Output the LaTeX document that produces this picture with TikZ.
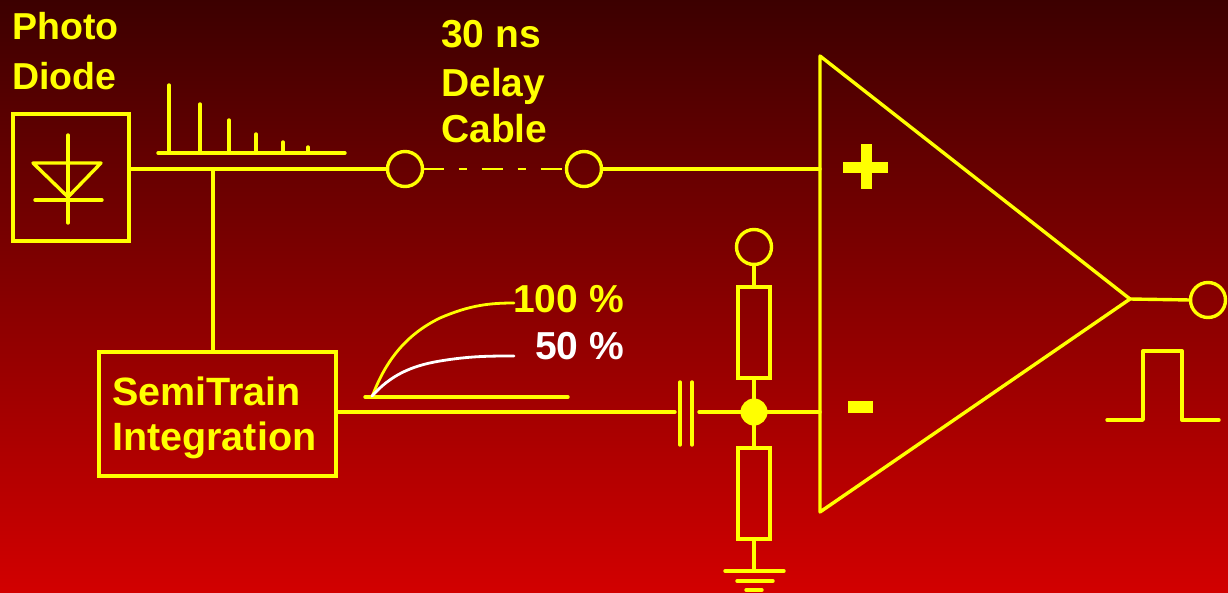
\documentclass[tikz,border=0pt]{standalone}
\usepackage{fontspec}
\newfontfamily\arb{Liberation Sans}
\definecolor{yel}{RGB}{255,255,0}
\definecolor{bgtop}{RGB}{60,0,0}
\definecolor{bgbot}{RGB}{210,0,0}
\tikzset{
  wire/.style={draw=yel, line width=3.4pt, line cap=round, line join=round},
  term/.style={circle, draw=yel, line width=3.4pt, minimum size=35pt, inner sep=0pt, outer sep=0pt},
  boxx/.style={draw=yel, line width=3.4pt, inner sep=0pt, outer sep=0pt},
  lbl/.style={font=\arb\bfseries\fontsize{39}{45}\selectfont, text=yel, inner sep=0pt, anchor=base west},
  plbl/.style={lbl, font=\arb\bfseries\fontsize{37.5}{45}\selectfont},
  slbl/.style={lbl, font=\arb\bfseries\fontsize{39.5}{45}\selectfont},
  wlbl/.style={lbl, text=white},
  curve/.style={line width=2.8pt, line cap=round, line join=round},
  dly/.style={draw=yel, line width=1.4pt, dash pattern=on 21pt off 15pt on 8pt off 15pt}
}
\begin{document}
\begin{tikzpicture}[x=1pt, y=-1pt]
\useasboundingbox (0,0) rectangle (1228,592);
\fill[top color=bgtop, bottom color=bgbot] (0,0) rectangle (1228,592);

% Photo diode box
\node[boxx, minimum width=116pt, minimum height=127pt] (pd) at (71,177.5) {};
\draw[wire] (68,135) -- (68,223);
\draw[wire] (33,163) -- (101,163) -- (68,197) -- cycle;
\draw[wire] (35,200) -- (102,200);

% pulse train
\draw[wire] (158,153) -- (345,153);
\foreach \x/\t in {169/85,200/104,229/120,256/134,283/142,308/147}
  \draw[wire] (\x,153) -- (\x,\t);

% terminals
\node[term] (c1) at (405,169) {};
\node[term] (c2) at (584,169) {};
\node[term] (c4) at (754,247) {};
\node[term] (c3) at (1208,300) {};

% opamp
\coordinate (optop) at (820,56);
\coordinate (opbot) at (820,512);
\coordinate (opout) at (1130,299);
\coordinate (inp) at (820,169);
\coordinate (inm) at (820,412);
\draw[wire] (optop) -- (opout) -- (opbot) -- cycle;
\fill[yel] (843,161.5) rectangle (888,172.5);
\fill[yel] (860.5,144) rectangle (871.5,189);
\fill[yel] (848,401) rectangle (873,413);

% top wiring
\coordinate (tap) at (213,169);
\draw[wire] (pd.east |- c1) -- (c1.west);
\draw[dly] (c1.east) -- (c2.west);
\draw[wire] (c2.east) -- (inp);
\draw[wire] (opout) -- (c3.west);

% SemiTrain box
\node[boxx, minimum width=237pt, minimum height=124pt] (st) at (217.5,414) {};
\draw[wire] (tap) -- (tap |- st.north);
\node[slbl] (st1) at (112,405) {SemiTrain};
\node[slbl] (st2) at (112,450) {Integration};

% capacitor
\coordinate (capL) at (680,412);
\coordinate (capR) at (692,412);
\draw[wire] (capL |- 0,382) -- (capL |- 0,445);
\draw[wire] (capR |- 0,382) -- (capR |- 0,445);

% junction and resistors
\node[circle, fill=yel, minimum size=27pt, inner sep=0pt, outer sep=0pt] (j) at (754,412) {};
\node[boxx, minimum width=32pt, minimum height=91pt] (r1) at (754,332.5) {};
\node[boxx, minimum width=32pt, minimum height=91pt] (r2) at (754,493.5) {};
\coordinate (g) at (754,571);
\draw[wire] (st.east |- j) -- ([xshift=-5pt]capL);
\draw[wire] ([xshift=7pt]capR) -- (j.west);
\draw[wire] (j.east) -- (inm);
\draw[wire] (j) -- (r1.south);
\draw[wire] (r1.north) -- (c4.south);
\draw[wire] (j) -- (r2.north);
\draw[wire] (r2.south) -- (g);
\draw[wire] ([xshift=-29pt]g) -- ([xshift=30pt]g);
\draw[wire] (737,581) -- (773,581);
\draw[wire] (746,590) -- (762,590);

% charge curves
\draw[wire] (365,397) -- (568,397);
\draw[yel, curve] (372,397) .. controls (385,362) and (405,335) .. (440,318) .. controls (470,305) and (490,303) .. (514,303);
\draw[white, curve] (372,396) .. controls (390,376) and (410,366) .. (440,361) .. controls (470,356) and (490,356) .. (514,356);
\node[lbl] (p100) at (513,312) {100 \%};
\node[wlbl] (p50) at (535,359) {50 \%};

% output pulse
\draw[wire] (1107,420) -- (1143,420) -- (1143,351) -- (1182,351) -- (1182,420) -- (1219,420);

% labels
\node[plbl] (ph1) at (12,39) {Photo};
\node[plbl] (ph2) at (12,89) {Diode};
\node[lbl] (dl1) at (441,47) {30 ns};
\node[lbl] (dl2) at (441,96) {Delay};
\node[lbl] (dl3) at (441,142) {Cable};
\end{tikzpicture}
\end{document}
